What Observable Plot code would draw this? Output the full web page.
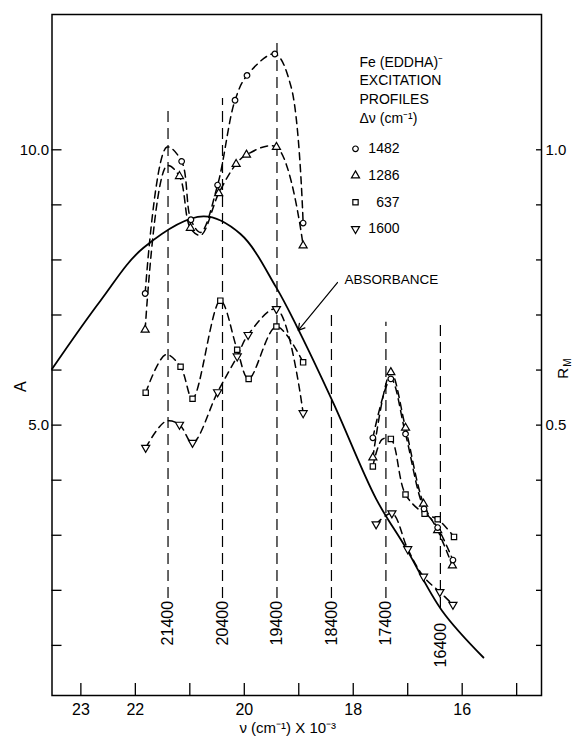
<!DOCTYPE html>
<html><head><meta charset="utf-8">
<script src="https://cdn.jsdelivr.net/npm/d3@7"></script>
<script src="https://cdn.jsdelivr.net/npm/@observablehq/plot@0.6"></script>
<style>body{margin:0;background:#fff}#chart{width:577px;height:744px}</style>
</head><body><div id="chart"></div>
<script>
// ---- data (wavenumber in 10^3 cm^-1, A units; R_M = A/10) ----
const nu1482 = [21.82, 21.15, 20.98, 20.49, 20.17, 19.95, 19.44, 18.92, 17.64, 17.31, 17.04, 16.70, 16.45, 16.17];
const a1482  = [7.39, 9.79, 8.73, 9.36, 10.90, 11.35, 11.74, 8.67, 4.77, 5.84, 4.84, 3.48, 3.14, 2.55];
const nu1286 = [21.82, 21.19, 20.99, 20.47, 20.15, 19.96, 19.41, 18.92, 17.64, 17.31, 17.04, 16.71, 16.45, 16.18];
const a1286  = [6.73, 9.52, 8.58, 9.21, 9.74, 9.91, 10.05, 8.26, 4.41, 5.96, 4.95, 3.57, 3.09, 2.45];
const nu637  = [21.81, 21.17, 20.95, 20.44, 20.13, 19.92, 19.41, 18.92, 17.64, 17.31, 17.04, 16.69, 16.45, 16.15];
const a637   = [5.59, 6.06, 5.48, 7.26, 6.37, 5.84, 6.79, 6.14, 4.25, 4.75, 3.74, 3.39, 3.29, 2.97];
const nu1600 = [21.81, 21.19, 20.95, 20.49, 20.13, 19.93, 19.41, 18.92, 17.58, 17.29, 17.00, 16.71, 16.41, 16.17];
const a1600  = [4.59, 5.01, 4.68, 5.60, 6.25, 6.64, 7.11, 5.22, 3.20, 3.40, 2.75, 2.25, 1.97, 1.74];
// extra points (apexes / dips without a marker)
const curveNu1482 = [21.42, 20.80, 19.14];
const curveA1482  = [10.05, 8.50, 11.14];
const curveNu1286 = [21.42, 20.80];
const curveA1286  = [9.71, 8.45];
const curveNu637  = [21.44, 17.47];
const curveA637   = [6.28, 4.74];
const curveNu1600 = [21.44];
const curveA1600  = [5.07];
// absorbance (solid curve)
const absNu = [23.53, 22.64, 21.85, 20.75, 20.07, 19.42, 19.03, 18.36, 17.58, 17.04, 16.37, 15.61];
const absA  = [6.02, 7.26, 8.22, 8.79, 8.47, 7.51, 6.78, 5.39, 3.66, 2.78, 1.63, 0.78];
// excitation lines
const laserNu    = [21.4, 20.4, 19.4, 18.4, 17.4, 16.4];
const laserLabel = ["21400", "20400", "19400", "18400", "17400", "16400"];
const laserTop   = [10.77, 10.93, 12.03, 7.02, 6.87, 6.83];
const laserBot   = [1.85, 1.85, 1.85, 1.85, 1.85, 1.67];
const laserText  = [1.0, 1.0, 1.0, 1.0, 1.0, 0.6];
// axes
const xTicks = [15, 16, 17, 18, 19, 20, 21, 22, 23];
const xTickLabels = [23, 22, 20, 18, 16];
const yTicks = [1, 2, 3, 4, 5, 6, 7, 8, 9, 10];
const yTickLabels = [5, 10];
const seriesNames = ["1482", "1286", "637", "1600"];
const legendTitle = ["Fe (EDDHA)\u207B", "EXCITATION", "PROFILES", "\u0394\u03BD (cm\u207B\u00B9)"];

// ---- build tables ----
const series = [
  {name: "1482", nu: nu1482, a: a1482, cnu: curveNu1482, ca: curveA1482, symbol: "circle", rot: 0},
  {name: "1286", nu: nu1286, a: a1286, cnu: curveNu1286, ca: curveA1286, symbol: "triangle", rot: 0},
  {name: "637",  nu: nu637,  a: a637,  cnu: curveNu637,  ca: curveA637,  symbol: "square", rot: 0},
  {name: "1600", nu: nu1600, a: a1600, cnu: curveNu1600, ca: curveA1600, symbol: "triangle", rot: 180}
];
const markers = [];
const curves = [];
for (const s of series) {
  s.nu.forEach((v, i) => markers.push({nu: v, a: s.a[i], name: s.name, symbol: s.symbol, rot: s.rot}));
  const pts = s.nu.map((v, i) => ({nu: v, a: s.a[i]})).concat(s.cnu.map((v, i) => ({nu: v, a: s.ca[i]})));
  pts.sort((p, q) => q.nu - p.nu);
  pts.forEach(p => curves.push({...p, key: s.name + (p.nu > 18.5 ? "L" : "R")}));
}
const absData = absNu.map((v, i) => ({nu: v, a: absA[i]}));
const lasers = laserNu.map((v, i) => ({nu: v, label: laserLabel[i], top: laserTop[i], bot: laserBot[i], text: laserText[i]}));

const r = d => d.symbol === "circle" ? 3.3 : 3.8;

// legend marks (pixel offsets from the frame's top-left corner)
const legendMarks = [];
legendTitle.forEach((t, i) => {
  legendMarks.push(Plot.text([t], {frameAnchor: "top-left", text: d => d, dx: 307.5, dy: 47.7 + i * 18.8,
    textAnchor: "start", lineAnchor: "middle", fontSize: 14}));
});
series.forEach((s, i) => {
  legendMarks.push(Plot.dot([s], {frameAnchor: "top-left", dx: 303.5, dy: 134.3 + i * 26.7,
    symbol: "symbol", rotate: "rot", r, fill: "white", stroke: "black", strokeWidth: 1.2}));
  legendMarks.push(Plot.text([seriesNames[i]], {frameAnchor: "top-left", text: d => d, dx: 347.5, dy: 134.3 + i * 26.7,
    textAnchor: "end", lineAnchor: "middle", fontSize: 14}));
});

const font = "Liberation Sans, Arial, Helvetica, sans-serif";
const chart = Plot.plot({
  width: 577, height: 744,
  marginTop: 14, marginBottom: 49, marginLeft: 51.5, marginRight: 36,
  style: {fontFamily: font, fontSize: "15px", background: "white", color: "black"},
  x: {domain: [23.53, 14.544]},
  y: {domain: [0.09, 12.457]},
  marks: [
    Plot.frame({stroke: "black", strokeWidth: 1.5}),
    Plot.axisX(xTicks, {tickSize: -12, tickFormat: () => "", label: null, strokeWidth: 1.3}),
    Plot.axisX(xTickLabels, {tickSize: 0, tickPadding: 8, label: null, fontSize: 16}),
    Plot.axisY(yTicks, {anchor: "left", tickSize: -10, tickFormat: () => "", label: null, strokeWidth: 1.3}),
    Plot.axisY(yTickLabels, {anchor: "left", tickSize: 0, tickPadding: 3, label: null, fontSize: 15, tickFormat: d => d.toFixed(1)}),
    Plot.axisY(yTicks, {anchor: "right", tickSize: -6, tickFormat: () => "", label: null, strokeWidth: 1.3}),
    Plot.axisY(yTickLabels, {anchor: "right", tickSize: 0, tickPadding: 4, label: null, fontSize: 15, tickFormat: d => (d / 10).toFixed(1)}),
    // excitation lines
    Plot.ruleX(lasers, {x: "nu", y1: "bot", y2: "top", stroke: "black", strokeWidth: 1.2, strokeDasharray: "11,6"}),
    Plot.text(lasers, {x: "nu", y: "text", text: "label", rotate: -90, textAnchor: "start", fontSize: 16}),
    // absorbance
    Plot.line(absData, {x: "nu", y: "a", curve: "catmull-rom", stroke: "black", strokeWidth: 1.8}),
    // excitation profile curves
    Plot.line(curves, {x: "nu", y: "a", z: "key", curve: "catmull-rom", stroke: "black", strokeWidth: 1.5, strokeDasharray: "7,5"}),
    Plot.dot(markers, {x: "nu", y: "a", symbol: "symbol", rotate: "rot", r, fill: "white", stroke: "black", strokeWidth: 1.2}),
    // absorbance annotation
    Plot.text(["ABSORBANCE"], {x: 18.16, y: 7.64, text: d => d, textAnchor: "start", fontSize: 13.5}),
    Plot.arrow([0], {x1: 18.29, y1: 7.59, x2: 19.01, y2: 6.72, stroke: "black", strokeWidth: 1.2, headLength: 9}),
    ...legendMarks,
    // axis titles
    Plot.text(["A"], {frameAnchor: "left", text: d => d, dx: -31.5, dy: 37, rotate: -90, fontSize: 16}),
    Plot.text(["R"], {frameAnchor: "right", text: d => d, dx: 22, dy: 13, rotate: -90, fontSize: 15}),
    Plot.text(["M"], {frameAnchor: "right", text: d => d, dx: 26, dy: 3.5, rotate: -90, fontSize: 10}),
    Plot.text(["\u03BD (cm\u207B\u00B9) X 10\u207B\u00B3"], {frameAnchor: "bottom", text: d => d, dx: -9, dy: 37, fontSize: 15})
  ]
});
document.getElementById("chart").appendChild(chart);
</script>
</body></html>
